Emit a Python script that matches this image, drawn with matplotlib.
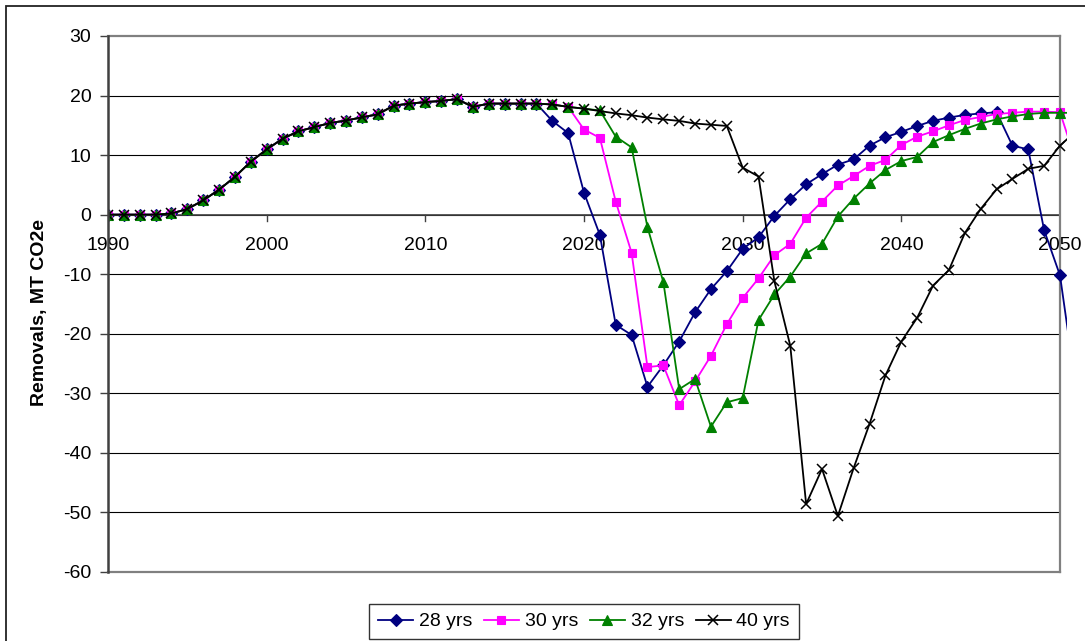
import matplotlib
matplotlib.use("Agg")
import matplotlib.pyplot as plt
from matplotlib.patches import Rectangle
from matplotlib.transforms import Bbox, TransformedBbox

plt.rcParams['font.family'] = ['Liberation Sans', 'DejaVu Sans']

years = list(range(1990, 2052))

# Removals shared by every rotation scenario, 1990-2017
baseline = [0, 0, 0, 0, 0.2, 0.95, 2.4, 4.2, 6.35, 8.9, 10.95, 12.75, 14.0, 14.7,
            15.4, 15.8, 16.35, 16.85, 18.3, 18.65, 18.9, 19.1, 19.4, 18.1,
            18.65, 18.65, 18.65, 18.65]

# Scenario-specific removals, 2018-2051
tail_28 = [15.75, 13.7, 3.7, -3.4, -18.5, -20.2, -28.9, -25.3, -21.3, -16.4,
           -12.5, -9.5, -5.75, -3.8, -0.2, 2.6, 5.1, 6.8, 8.4, 9.3, 11.6, 13.0,
           13.9, 14.9, 15.75, 16.3, 16.75, 17.0, 17.2, 11.6, 10.95, -2.6, -10.2, -29.0]
tail_30 = [18.5, 18.1, 14.3, 12.9, 2.2, -6.4, -25.6, -25.3, -32.0, -28.0, -23.7,
           -18.4, -14.0, -10.7, -6.8, -4.9, -0.5, 2.2, 4.9, 6.5, 8.2, 9.2, 11.7,
           13.1, 14.0, 15.0, 15.9, 16.4, 16.9, 17.1, 17.3, 17.3, 17.2, 9.0]
tail_32 = [18.5, 18.1, 17.8, 17.5, 13.1, 11.3, -2.1, -11.3, -29.3, -27.6, -35.6,
           -31.5, -30.8, -17.7, -13.4, -10.4, -6.5, -4.9, -0.3, 2.7, 5.25, 7.5,
           9.0, 9.7, 12.2, 13.35, 14.4, 15.3, 16.0, 16.5, 16.9, 17.1, 17.1, 17.1]
tail_40 = [18.5, 18.1, 17.8, 17.4, 17.0, 16.7, 16.3, 16.0, 15.75, 15.3, 15.1,
           14.9, 7.9, 6.4, -11.2, -22.0, -48.6, -42.7, -50.6, -42.5, -35.1, -27.0,
           -21.3, -17.3, -11.9, -9.3, -3.1, 0.95, 4.25, 6.0, 7.7, 8.2, 11.6, 14.0]

series_labels = ['28 yrs', '30 yrs', '32 yrs', '40 yrs']
series_values = [baseline + tail_28, baseline + tail_30,
                 baseline + tail_32, baseline + tail_40]
series_colors = ['#000080', '#FF00FF', '#008000', '#000000']
series_markers = ['D', 's', '^', 'x']
series_msize = [6, 6, 7, 7]

y_ticks = list(range(-60, 31, 10))
x_ticks = list(range(1990, 2051, 10))

W, H = 1085, 641
fig = plt.figure(figsize=(W / 100, H / 100), dpi=100)
fig.patch.set_facecolor('white')

# outer chart border
fig.add_artist(Rectangle((5.5 / W, -0.1), 1.2, 1 - 5.5 / H + 0.1,
                         transform=fig.transFigure, fill=False,
                         edgecolor='#222222', linewidth=1.3))

left, right, top, bottom = 108, 1060, 36, 572
ax = fig.add_axes([left / W, 1 - bottom / H, (right - left) / W, (bottom - top) / H])
ax.set_xlim(1990, 2050)
ax.set_ylim(-60, 30)

# horizontal gridlines
for yv in y_ticks[1:-1]:
    ax.axhline(yv, color='#000000', linewidth=0.8, zorder=1)

for side in ['top', 'right', 'bottom']:
    ax.spines[side].set_color('#808080')
    ax.spines[side].set_linewidth(1.6)
ax.spines['left'].set_color('#404040')
ax.spines['left'].set_linewidth(1.8)
ax.spines['left'].set_zorder(5)

ax.set_yticks(y_ticks)
ax.set_yticklabels([str(v) for v in y_ticks])
ax.tick_params(axis='y', direction='out', length=6, width=1, color='#404040',
               pad=6, labelsize=14)

# category axis crossing at zero
ax.set_xticks([])
for xv in x_ticks:
    ax.plot([xv, xv], [0, -1.0], color='#404040', linewidth=1, zorder=2)
    ax.text(xv, -3.7, str(xv), ha='center', va='top', fontsize=14, zorder=3)
ax.axhline(0, color='#404040', linewidth=1.2, zorder=2)

clip = TransformedBbox(Bbox.from_extents(0, -0.01, 1.0075, 1.01), ax.transAxes)
handles = []
for lab, vals, col, mk, ms in zip(series_labels, series_values, series_colors,
                                  series_markers, series_msize):
    ln, = ax.plot(years, vals, color=col, marker=mk, markersize=ms,
                  markeredgewidth=1.1 if mk == 'x' else 0.8,
                  markerfacecolor=col, markeredgecolor=col,
                  linewidth=1.3, label=lab, zorder=4)
    ln.set_clip_box(clip)
    handles.append(ln)

fig.text(40 / W, 1 - 313 / H, 'Removals, MT CO2e', rotation=90, ha='center',
         va='center', fontsize=14, fontweight='bold')

leg = fig.legend(handles=handles, labels=series_labels, ncol=4, loc='center',
                 bbox_to_anchor=(584 / W, 1 - 621.5 / H), fontsize=14,
                 frameon=True, fancybox=False, edgecolor='#000000',
                 handlelength=1.8, handletextpad=0.3, columnspacing=0.6,
                 borderpad=0.45, borderaxespad=0)
leg.get_frame().set_linewidth(1.0)

fig.savefig('out.png', dpi=100, facecolor='white')
